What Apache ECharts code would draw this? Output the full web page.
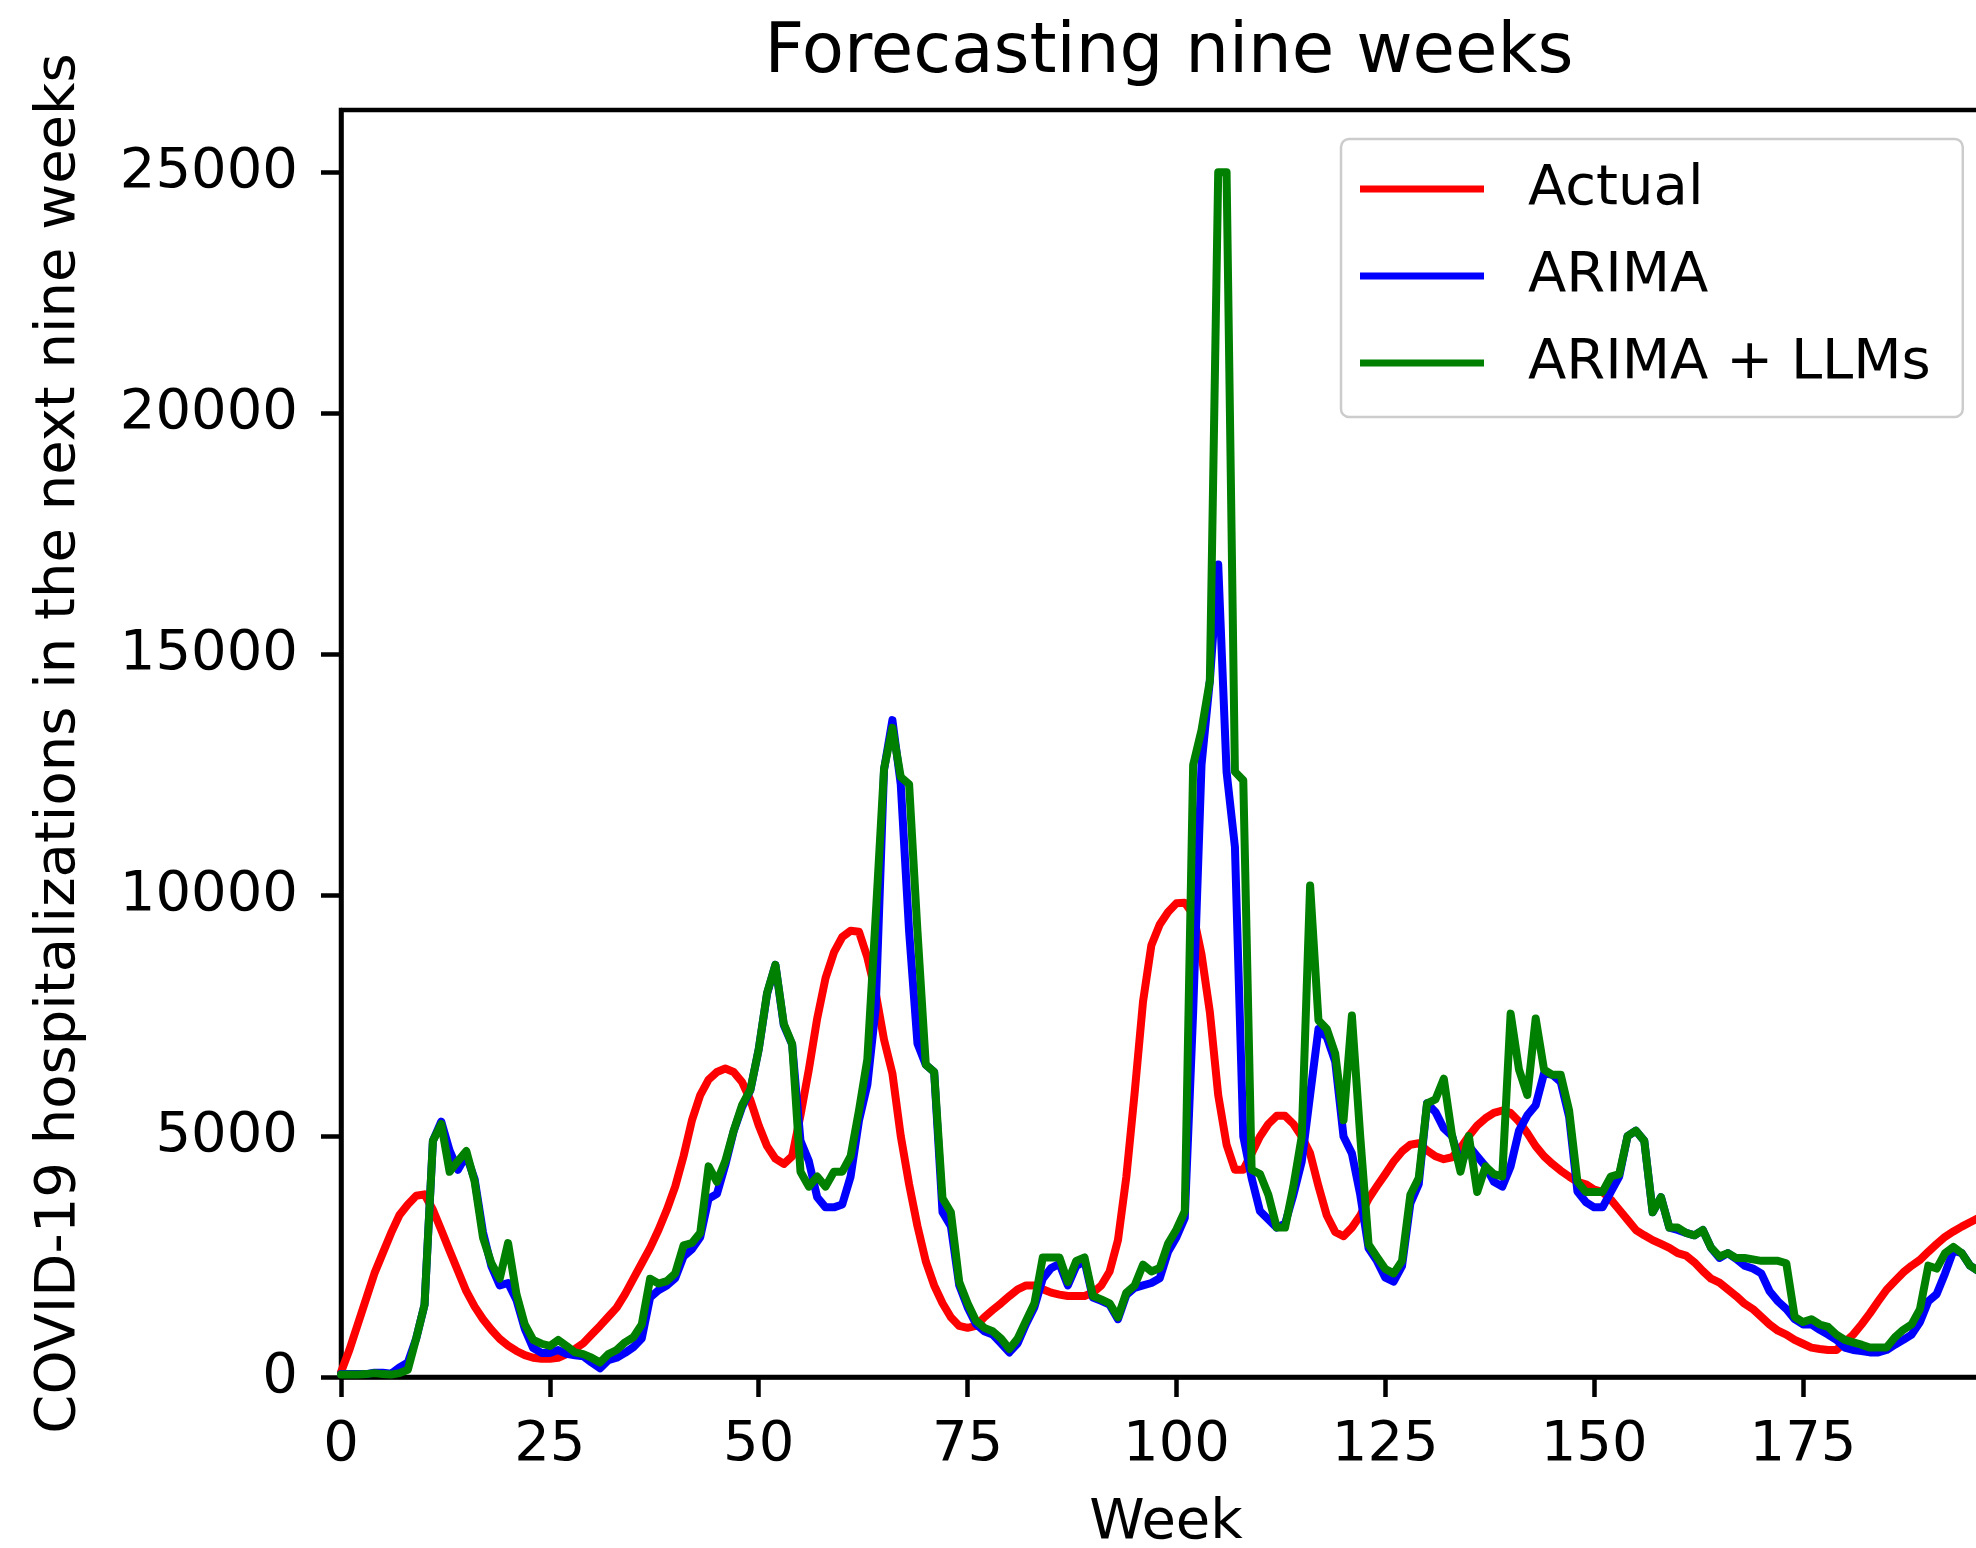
<!DOCTYPE html>
<html>
<head>
<meta charset="utf-8">
<title>Forecasting nine weeks</title>
<script src="https://cdn.jsdelivr.net/npm/echarts@6/dist/echarts.min.js"></script>
<style>
  html, body { margin: 0; padding: 0; background: #fff; }
  #chart { width: 1976px; height: 1548px; }
</style>
</head>
<body>
<div id="chart"></div>
<script>
// weekly values, week index = position in array (0..196)
const actual = [
  100, 560, 1090, 1620, 2150, 2570, 2990, 3360, 3580, 3760,
  3790, 3470, 3050, 2620, 2200, 1780, 1460, 1200, 980, 790,
  650, 540, 455, 400, 380, 380, 400, 475, 580, 700,
  880, 1060, 1250, 1440, 1720, 2040, 2360, 2680, 3050, 3470,
  3950, 4580, 5320, 5850, 6170, 6330, 6400, 6330, 6120, 5750,
  5220, 4790, 4530, 4420, 4580, 5430, 6380, 7440, 8280, 8810,
  9130, 9260, 9240, 8710, 7970, 7000, 6300, 5000, 4000, 3130,
  2400, 1900, 1530, 1240, 1060, 1020, 1060, 1240, 1390, 1530,
  1680, 1820, 1900, 1900, 1820, 1750, 1710, 1680, 1680, 1680,
  1750, 1900, 2190, 2840, 4150, 5900, 7790, 8960, 9390, 9650,
  9830, 9840, 9600, 8770, 7570, 5850, 4820, 4300, 4300, 4640,
  4990, 5250, 5420, 5420, 5250, 4990, 4640, 3960, 3350, 3010,
  2920, 3100, 3350, 3700, 3960, 4210, 4470, 4680, 4820, 4850,
  4700, 4580, 4520, 4560, 4750, 5000, 5220, 5370, 5480, 5530,
  5480, 5300, 5060, 4790, 4580, 4420, 4280, 4160, 4050, 4000,
  3890, 3840, 3680, 3470, 3260, 3050, 2940, 2840, 2760, 2680,
  2570, 2520, 2380, 2200, 2040, 1960, 1820, 1680, 1520, 1410,
  1250, 1090, 960, 880, 770, 690, 610, 580, 560, 560,
  720, 880, 1090, 1320, 1570, 1810, 1990, 2170, 2310, 2430,
  2600, 2760, 2910, 3020, 3120, 3210, 3300
];

const arima = [
  60, 60, 60, 60, 90, 90, 70, 200, 300, 800,
  1500, 4900, 5300, 4700, 4300, 4600, 4100, 3000, 2300, 1900,
  1950, 1600, 1000, 600, 500, 500, 560, 480, 450, 430,
  300, 180, 350, 400, 500, 620, 800, 1650, 1800, 1900,
  2050, 2500, 2650, 2900, 3700, 3800, 4400, 5100, 5600, 5950,
  6800, 7950, 8550, 7300, 6900, 4900, 4480, 3730, 3520, 3520,
  3580, 4160, 5320, 6060, 7650, 12600, 13630, 12300, 9250, 6920,
  6480, 6330, 3420, 3130, 1900, 1450, 1100, 950, 880, 700,
  510, 700, 1100, 1450, 2040, 2260, 2350, 1900, 2300, 2400,
  1650, 1580, 1500, 1200, 1700, 1850, 1900, 1950, 2050, 2600,
  2900, 3300, 7570, 12700, 14450, 16860, 12560, 11000, 4990, 4130,
  3440, 3270, 3100, 3180, 3780, 4470, 5850, 7220, 7050, 6550,
  4990, 4640, 3780, 2670, 2410, 2060, 1980, 2300, 3600, 4000,
  5680, 5500, 5160, 5000, 4400, 4790, 4580, 4370, 4050, 3950,
  4370, 5110, 5430, 5640, 6300, 6270, 6120, 5400, 3850, 3630,
  3520, 3520, 3840, 4160, 5000, 5110, 4900, 3420, 3730, 3100,
  3050, 2990, 2940, 3050, 2680, 2470, 2570, 2450, 2310, 2250,
  2150, 1780, 1570, 1410, 1200, 1090, 1090, 980, 880, 770,
  610, 560, 540, 510, 510, 560, 670, 770, 880, 1140,
  1570, 1720, 2150, 2620, 2570, 2310, 2200
];

const arimaLlm = [
  50, 50, 50, 60, 80, 60, 50, 80, 150, 800,
  1500, 4900, 5250, 4260, 4480, 4690, 4050, 2890, 2360, 2040,
  2780, 1720, 1090, 770, 690, 645, 770, 645, 510, 475,
  400, 300, 475, 560, 720, 825, 1090, 2040, 1940, 1990,
  2150, 2730, 2780, 2990, 4370, 4050, 4480, 5110, 5640, 5960,
  6800, 7970, 8550, 7330, 6910, 4260, 3950, 4160, 3950, 4260,
  4260, 4580, 5530, 6590, 9550, 12620, 13470, 12450, 12300, 9250,
  6480, 6330, 3710, 3420, 1970, 1530, 1170, 1020, 950, 800,
  580, 800, 1170, 1530, 2480, 2480, 2480, 1970, 2410, 2480,
  1680, 1610, 1530, 1240, 1750, 1900, 2330, 2190, 2260, 2770,
  3060, 3440, 12700, 13420, 14450, 25000, 25000, 12560, 12380, 4300,
  4210, 3780, 3100, 3100, 3960, 4990, 10200, 7400, 7220, 6710,
  5330, 7500, 4990, 2750, 2490, 2240, 2150, 2410, 3780, 4130,
  5680, 5760, 6190, 5000, 4260, 5000, 3840, 4370, 4210, 4160,
  7540, 6380, 5850, 7440, 6380, 6270, 6270, 5530, 4050, 3840,
  3840, 3840, 4160, 4210, 5000, 5110, 4900, 3420, 3730, 3100,
  3100, 2990, 2940, 3050, 2680, 2500, 2570, 2470, 2470, 2440,
  2410, 2410, 2410, 2360, 1250, 1140, 1200, 1090, 1040, 880,
  770, 720, 670, 610, 610, 610, 825, 980, 1090, 1410,
  2310, 2250, 2570, 2700, 2570, 2310, 2200
];

const xTicks = [0, 25, 50, 75, 100, 125, 150, 175];
const yTicks = [0, 5000, 10000, 15000, 20000, 25000];

const seriesNames = ['Actual', 'ARIMA', 'ARIMA + LLMs'];
const seriesColors = ['#ff0000', '#0000ff', '#008000'];

const FONT = 'DejaVu Sans';

function toPairs(arr) {
  return arr.map((v, i) => [i, v]);
}

const chart = echarts.init(document.getElementById('chart'), null, { renderer: 'canvas' });

const axisLine = { show: true, lineStyle: { color: '#000', width: 4.5 } };
const axisTick = { show: true, inside: false, length: 20, lineStyle: { color: '#000', width: 4.5 } };

const option = {
  animation: false,
  backgroundColor: '#fff',
  title: {
    text: 'Forecasting nine weeks',
    left: 1164,
    top: 15,
    textAlign: 'center',
    textStyle: { fontFamily: FONT, fontSize: 69, fontWeight: 'normal', color: '#000' }
  },
  legend: {
    data: seriesNames,
    orient: 'vertical',
    left: 1341,
    top: 139,
    padding: [22, 32, 26, 19],
    itemGap: 31,
    itemWidth: 124,
    itemHeight: 7,
    icon: 'rect',
    backgroundColor: '#fff',
    borderColor: '#cccccc',
    borderWidth: 2.5,
    borderRadius: 8,
    textStyle: {
      fontFamily: FONT,
      fontSize: 56,
      lineHeight: 56,
      color: '#000',
      padding: [0, 0, 0, 39]
    }
  },
  grid: {
    left: 341,
    top: 110,
    right: -15,
    bottom: 171,
    containLabel: false,
    outerBoundsMode: 'none',
    show: true,
    borderColor: '#000',
    borderWidth: 4.5,
    backgroundColor: '#fff'
  },
  xAxis: {
    type: 'value',
    min: 0,
    max: 197.5,
    interval: 25,
    name: 'Week',
    nameLocation: 'middle',
    nameGap: 118,
    nameTextStyle: { fontFamily: FONT, fontSize: 56, color: '#000' },
    axisLine: axisLine,
    axisTick: { ...axisTick, customValues: xTicks },
    splitLine: { show: false },
    axisLabel: {
      customValues: xTicks,
      margin: 40,
      fontFamily: FONT,
      fontSize: 56,
      color: '#000',
      formatter: v => String(v)
    }
  },
  yAxis: {
    type: 'value',
    min: 0,
    max: 26290,
    interval: 5000,
    name: 'COVID-19 hospitalizations in the next nine weeks',
    nameLocation: 'middle',
    nameGap: 254,
    nameTextStyle: { fontFamily: FONT, fontSize: 56, color: '#000' },
    axisLine: axisLine,
    axisTick: { ...axisTick, customValues: yTicks },
    splitLine: { show: false },
    axisLabel: {
      customValues: yTicks,
      margin: 43,
      fontFamily: FONT,
      fontSize: 56,
      color: '#000',
      formatter: v => String(v)
    }
  },
  series: [actual, arima, arimaLlm].map((arr, i) => ({
    name: seriesNames[i],
    type: 'line',
    data: toPairs(arr),
    showSymbol: false,
    symbol: 'none',
    smooth: false,
    color: seriesColors[i],
    lineStyle: { color: seriesColors[i], width: 8, join: 'round', cap: 'round' },
    z: 2 + i
  }))
};

chart.setOption(option);
</script>
</body>
</html>
